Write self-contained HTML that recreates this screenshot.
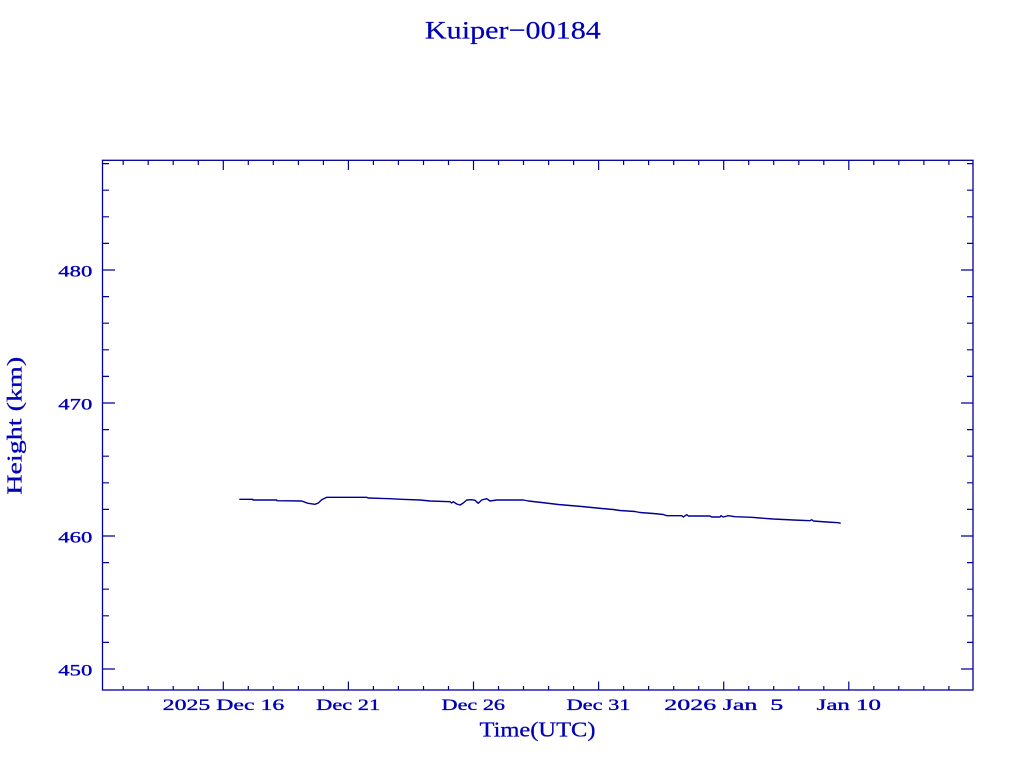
<!DOCTYPE html>
<html>
<head>
<meta charset="utf-8">
<style>
  html, body { margin: 0; padding: 0; background: #ffffff; }
  svg { display: block; }
  text { font-family: "Liberation Serif", serif; fill: #0000b4; white-space: pre; }
</style>
</head>
<body>
<svg width="1024" height="768" viewBox="0 0 1024 768" xmlns="http://www.w3.org/2000/svg">
  <rect x="0" y="0" width="1024" height="768" fill="#ffffff"/>

  <!-- Title -->
  <text x="512.9" y="38.3" font-size="25" text-anchor="middle" textLength="176" lengthAdjust="spacingAndGlyphs" stroke="#0000b4" stroke-width="0.2">Kuiper−00184</text>

  <!-- Frame -->
  <rect x="102.5" y="160.3" width="870.5" height="529.7" fill="none" stroke="#00009c" stroke-width="1.3"/>

  <g stroke="#00009c" stroke-width="1.2" fill="none">
    <path d="M102.5 270H115 M102.5 403H115 M102.5 536H115 M102.5 669H115"/>
    <path d="M973 270H961 M973 403H961 M973 536H961 M973 669H961"/>
    <path d="M102.5 642.4H109 M102.5 615.8H109 M102.5 589.2H109 M102.5 562.6H109
             M102.5 509.4H109 M102.5 482.8H109 M102.5 456.2H109 M102.5 429.6H109
             M102.5 376.4H109 M102.5 349.8H109 M102.5 323.2H109 M102.5 296.6H109
             M102.5 243.4H109 M102.5 216.8H109 M102.5 190.2H109 M102.5 163.6H109"/>
    <path d="M973 642.4H967 M973 615.8H967 M973 589.2H967 M973 562.6H967
             M973 509.4H967 M973 482.8H967 M973 456.2H967 M973 429.6H967
             M973 376.4H967 M973 349.8H967 M973 323.2H967 M973 296.6H967
             M973 243.4H967 M973 216.8H967 M973 190.2H967 M973 163.6H967"/>
    <path d="M223.3 690V681.5 M348.4 690V681.5 M473.5 690V681.5 M598.6 690V681.5 M723.7 690V681.5 M848.8 690V681.5"/>
    <path d="M223.3 160.3V170 M348.4 160.3V170 M473.5 160.3V170 M598.6 160.3V170 M723.7 160.3V170 M848.8 160.3V170"/>
    <path d="M123.2 690V686 M148.2 690V686 M173.2 690V686 M198.3 690V686
             M248.3 690V686 M273.3 690V686 M298.4 690V686 M323.4 690V686
             M373.4 690V686 M398.4 690V686 M423.5 690V686 M448.5 690V686
             M498.5 690V686 M523.5 690V686 M548.6 690V686 M573.6 690V686
             M623.6 690V686 M648.6 690V686 M673.7 690V686 M698.7 690V686
             M748.7 690V686 M773.7 690V686 M798.8 690V686 M823.8 690V686
             M873.8 690V686 M898.8 690V686 M923.9 690V686 M948.9 690V686"/>
    <path d="M123.2 160.3V165 M148.2 160.3V165 M173.2 160.3V165 M198.3 160.3V165
             M248.3 160.3V165 M273.3 160.3V165 M298.4 160.3V165 M323.4 160.3V165
             M373.4 160.3V165 M398.4 160.3V165 M423.5 160.3V165 M448.5 160.3V165
             M498.5 160.3V165 M523.5 160.3V165 M548.6 160.3V165 M573.6 160.3V165
             M623.6 160.3V165 M648.6 160.3V165 M673.7 160.3V165 M698.7 160.3V165
             M748.7 160.3V165 M773.7 160.3V165 M798.8 160.3V165 M823.8 160.3V165
             M873.8 160.3V165 M898.8 160.3V165 M923.9 160.3V165 M948.9 160.3V165"/>
  </g>

  <!-- Y tick labels -->
  <g font-size="16" text-anchor="end" stroke="#0000b4" stroke-width="0.35">
    <text x="92.3" y="276.7" textLength="34" lengthAdjust="spacingAndGlyphs">480</text>
    <text x="92.3" y="409.7" textLength="34" lengthAdjust="spacingAndGlyphs">470</text>
    <text x="92.3" y="542.5" textLength="34" lengthAdjust="spacingAndGlyphs">460</text>
    <text x="92.3" y="675.5" textLength="34" lengthAdjust="spacingAndGlyphs">450</text>
  </g>

  <!-- X tick labels -->
  <g font-size="16" text-anchor="middle" stroke="#0000b4" stroke-width="0.35">
    <text x="223.5" y="710" textLength="121.6" lengthAdjust="spacingAndGlyphs">2025 Dec 16</text>
    <text x="348.2" y="710" textLength="64" lengthAdjust="spacingAndGlyphs">Dec 21</text>
    <text x="473.3" y="710" textLength="63.5" lengthAdjust="spacingAndGlyphs">Dec 26</text>
    <text x="598.5" y="710" textLength="64" lengthAdjust="spacingAndGlyphs">Dec 31</text>
    <text x="723.8" y="710" textLength="119" lengthAdjust="spacingAndGlyphs">2026 Jan  5</text>
    <text x="848.8" y="710" textLength="64.3" lengthAdjust="spacingAndGlyphs">Jan 10</text>
  </g>

  <!-- Axis titles -->
  <text x="537.5" y="736.5" font-size="21" text-anchor="middle" textLength="116" lengthAdjust="spacingAndGlyphs" stroke="#0000b4" stroke-width="0.25">Time(UTC)</text>
  <text transform="translate(21.7 425.8) rotate(-90)" x="0" y="0" font-size="21" text-anchor="middle" textLength="138" lengthAdjust="spacingAndGlyphs" stroke="#0000b4" stroke-width="0.25">Height (km)</text>

  <!-- Data series -->
  <polyline fill="none" stroke="#000096" stroke-width="1.4" stroke-linejoin="round"
    points="239.3,499.3 252.7,499.3 253,500 276.7,500 277,500.7 301.7,501 308,503.3 315,504.3 318.3,503 321.7,499.7 326.7,497.3 366.7,497.3 368.3,498 390,498.7 401.7,499.3 420,500 430,501 450,501.7 451.7,503 453.3,501.7 456.7,504 460,505 463.3,503 466.7,500 471.7,499.7 475,500.3 478.3,503.3 481.7,500 486.7,498.7 490,501 496.7,500 523.3,500 528.3,501 541.7,502.5 550,503.5 558.3,504.5 570,505.5 581.7,506.5 591.7,507.5 601.7,508.5 613.3,509.5 620,510.5 635,511.5 640,512.5 653.3,513.5 663.3,514.5 666.7,515.7 681.7,515.7 683.3,517 686.7,514.7 688.3,516 710,516 711.7,517 720,517 721,515.7 723.3,517 728.3,515.7 735,516.7 751.7,517.3 760,518 773.3,519 793.3,520 810,520.7 811.7,519.7 813.3,521 826.7,522 838.3,522.7 840.7,523.3"/>
</svg>
</body>
</html>
